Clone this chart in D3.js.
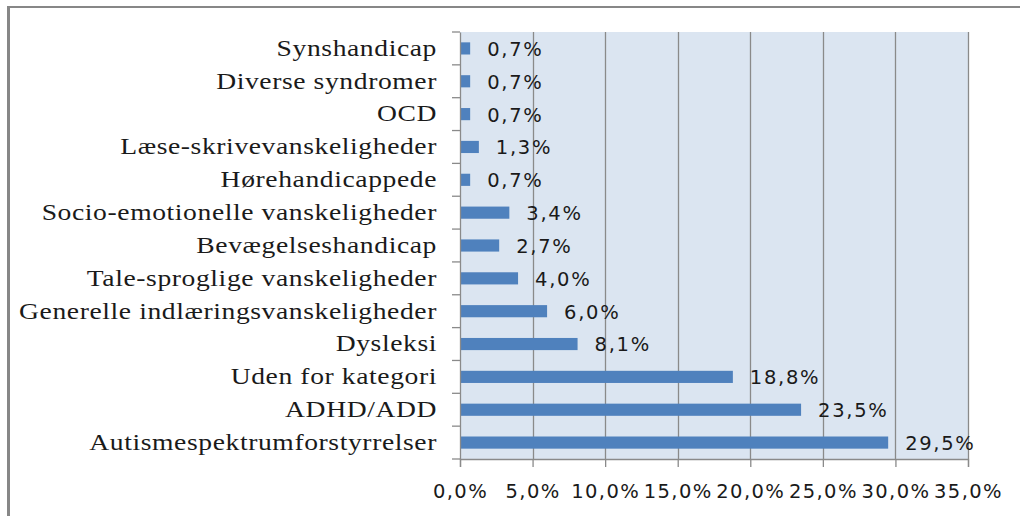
<!DOCTYPE html>
<html>
<head>
<meta charset="utf-8">
<script src="https://cdn.jsdelivr.net/npm/d3@7"></script>
<style>
  html, body { margin: 0; padding: 0; background: #fff; }
  svg { display: block; }
</style>
</head>
<body>
<svg id="chart" width="1020" height="516"></svg>
<script>
const categories = [
  "Synshandicap",
  "Diverse syndromer",
  "OCD",
  "Læse-skrivevanskeligheder",
  "Hørehandicappede",
  "Socio-emotionelle vanskeligheder",
  "Bevægelseshandicap",
  "Tale-sproglige vanskeligheder",
  "Generelle indlæringsvanskeligheder",
  "Dysleksi",
  "Uden for kategori",
  "ADHD/ADD",
  "Autismespektrumforstyrrelser"
];
const values = [0.7, 0.7, 0.7, 1.3, 0.7, 3.4, 2.7, 4.0, 6.0, 8.1, 18.8, 23.5, 29.5];
const xTicks = [0, 5, 10, 15, 20, 25, 30, 35];

const fmt = v => v.toFixed(1).replace(".", ",") + "%";

const svg = d3.select("#chart");
const margin = { left: 460, top: 32, right: 52, bottom: 57 };
const W = 1020, H = 516;
const iw = W - margin.left - margin.right;
const ih = H - margin.top - margin.bottom;

// outer frame
svg.append("line").attr("x1", 8).attr("x2", 1020).attr("y1", 7).attr("y2", 7)
  .attr("stroke", "#878787").attr("stroke-width", 2);
svg.append("line").attr("x1", 8.5).attr("x2", 8.5).attr("y1", 6).attr("y2", 516)
  .attr("stroke", "#878787").attr("stroke-width", 3);

const x = d3.scaleLinear().domain([0, 35]).range([0, iw]);
const y = d3.scaleBand().domain(categories).range([0, ih]).paddingInner(0.63).paddingOuter(0.315);

const g = svg.append("g").attr("transform", `translate(${margin.left},${margin.top})`);

g.append("rect").attr("x", 0).attr("y", 0).attr("width", iw).attr("height", ih).attr("fill", "#dbe5f1");

// gridlines
g.selectAll("line.grid").data(xTicks.slice(1)).join("line")
  .attr("class", "grid")
  .attr("x1", d => Math.round(x(d)) + 0.5).attr("x2", d => Math.round(x(d)) + 0.5)
  .attr("y1", 0).attr("y2", ih)
  .attr("stroke", "#8a8a8a").attr("stroke-width", 1.3);

// bars
g.selectAll("rect.bar").data(values).join("rect")
  .attr("class", "bar")
  .attr("x", 0)
  .attr("y", (d, i) => y(categories[i]))
  .attr("width", d => x(d))
  .attr("height", y.bandwidth())
  .attr("fill", "#4f81bd");

// value labels
g.selectAll("text.val").data(values).join("text")
  .attr("class", "val")
  .attr("x", d => x(d) + 17)
  .attr("y", (d, i) => y(categories[i]) + y.bandwidth() / 2)
  .attr("dy", "0.38em")
  .attr("font-family", "DejaVu Sans")
  .attr("font-size", 19.5)
  .attr("letter-spacing", 1.7)
  .attr("fill", "#1a1a1a")
  .text(d => fmt(d));

// x axis
const xAxis = g.append("g").attr("transform", `translate(0,${ih})`)
  .call(d3.axisBottom(x).tickValues(xTicks).tickSize(8).tickPadding(17).tickFormat(d => fmt(d)));
xAxis.select(".domain").attr("stroke", "#8a8a8a").attr("stroke-width", 1.3);
xAxis.selectAll(".tick line").attr("stroke", "#8a8a8a").attr("stroke-width", 1.3);
xAxis.selectAll(".tick text")
  .attr("font-family", "DejaVu Sans").attr("font-size", 19.5).attr("letter-spacing", 1.4)
  .attr("fill", "#1a1a1a");

// y axis (category labels)
const yAxis = g.append("g")
  .call(d3.axisLeft(y).tickSize(0).tickPadding(0));
yAxis.select(".domain").attr("stroke", "#8a8a8a").attr("stroke-width", 1.3);
yAxis.selectAll(".tick text")
  .attr("x", 0)
  .attr("transform", "translate(-23,0) scale(1.2,1)")
  .attr("font-family", "Liberation Serif").attr("font-size", 23)
  .attr("letter-spacing", 0.5)
  .attr("fill", "#1a1a1a");

// y ticks at band boundaries
const bounds = d3.range(categories.length + 1).map(i => i * ih / categories.length);
g.selectAll("line.ytick").data(bounds).join("line")
  .attr("class", "ytick")
  .attr("x1", -8).attr("x2", 0)
  .attr("y1", d => d).attr("y2", d => d)
  .attr("stroke", "#8a8a8a").attr("stroke-width", 1.3);
</script>
</body>
</html>
